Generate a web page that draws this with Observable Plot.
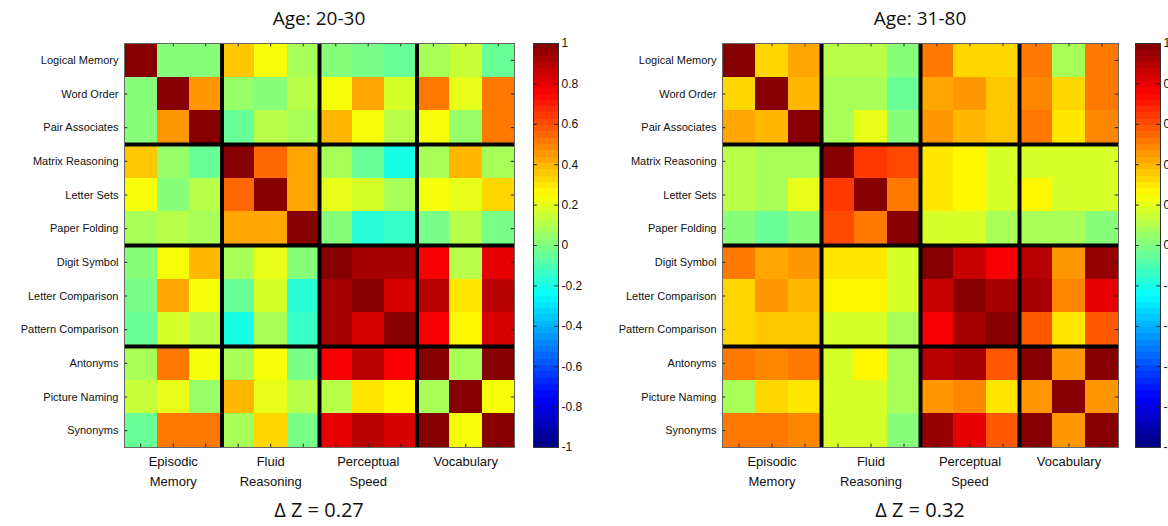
<!DOCTYPE html>
<html>
<head>
<meta charset="utf-8">
<script src="https://cdn.jsdelivr.net/npm/d3@7"></script>
<script src="https://cdn.jsdelivr.net/npm/@observablehq/plot@0.6"></script>
<style>
  html, body { margin: 0; padding: 0; background: #fff; }
  body { width: 1168px; height: 526px; overflow: hidden; position: relative; }
  .panel { position: absolute; top: 0; width: 584px; height: 526px; }
  .panel svg { position: absolute; top: 0; overflow: visible; }
  .title, .dz { position: absolute; text-align: center; font-family: "Open Sans", Lato, sans-serif; color: #111; white-space: nowrap; }
  .title { font-size: 19px; top: 5px; }
  .dz { font-size: 20px; top: 496px; }
</style>
</head>
<body>
<script>
// ---------- data ----------
const rowLabels = ["Logical Memory","Word Order","Pair Associates","Matrix Reasoning","Letter Sets","Paper Folding",
  "Digit Symbol","Letter Comparison","Pattern Comparison","Antonyms","Picture Naming","Synonyms"];
const groupLabels = ["Episodic\nMemory","Fluid\nReasoning","Perceptual\nSpeed","Vocabulary"];
const blockBounds = [3, 6, 9];
const colorTicks = [-1, -0.8, -0.6, -0.4, -0.2, 0, 0.2, 0.4, 0.6, 0.8, 1];
const titles = ["Age: 20-30", "Age: 31-80"];
const deltaZ = ["\u0394 Z = 0.27", "\u0394 Z = 0.32"];

const young = [
  [ 1.00, 0.00, 0.00, 0.37, 0.22, 0.08, 0.02,-0.01,-0.06, 0.09, 0.15,-0.06],
  [ 0.00, 1.00, 0.44, 0.06, 0.00, 0.12, 0.22, 0.41, 0.16, 0.53, 0.21, 0.53],
  [ 0.00, 0.44, 1.00,-0.06, 0.12, 0.09, 0.39, 0.22, 0.12, 0.22, 0.06, 0.53],
  [ 0.37, 0.06,-0.06, 1.00, 0.56, 0.41, 0.07,-0.05,-0.20, 0.09, 0.39, 0.09],
  [ 0.22, 0.00, 0.12, 0.56, 1.00, 0.43, 0.21, 0.16, 0.07, 0.22, 0.19, 0.32],
  [ 0.08, 0.12, 0.09, 0.41, 0.43, 1.00, 0.00,-0.17,-0.13,-0.03, 0.12,-0.02],
  [ 0.02, 0.22, 0.39, 0.07, 0.21, 0.00, 1.00, 0.93, 0.93, 0.75, 0.10, 0.81],
  [-0.01, 0.41, 0.22,-0.05, 0.16,-0.17, 0.93, 1.00, 0.84, 0.90, 0.31, 0.90],
  [-0.06, 0.16, 0.12,-0.20, 0.07,-0.13, 0.93, 0.84, 1.00, 0.78, 0.25, 0.84],
  [ 0.09, 0.53, 0.22, 0.09, 0.22,-0.03, 0.75, 0.90, 0.78, 1.00, 0.09, 0.97],
  [ 0.15, 0.21, 0.06, 0.39, 0.19, 0.12, 0.10, 0.31, 0.25, 0.09, 1.00, 0.22],
  [-0.06, 0.53, 0.53, 0.09, 0.32,-0.02, 0.81, 0.90, 0.84, 0.97, 0.22, 1.00]
];
const old = [
  [ 1.00, 0.33, 0.41, 0.10, 0.12, 0.03, 0.50, 0.34, 0.34, 0.53, 0.08, 0.50],
  [ 0.33, 1.00, 0.40, 0.07, 0.07,-0.06, 0.42, 0.46, 0.36, 0.47, 0.34, 0.53],
  [ 0.41, 0.40, 1.00, 0.09, 0.20, 0.02, 0.44, 0.39, 0.36, 0.50, 0.29, 0.47],
  [ 0.10, 0.07, 0.09, 1.00, 0.63, 0.61, 0.29, 0.25, 0.17, 0.16, 0.16, 0.16],
  [ 0.12, 0.07, 0.20, 0.63, 1.00, 0.50, 0.29, 0.28, 0.17, 0.25, 0.18, 0.18],
  [ 0.03,-0.06, 0.02, 0.61, 0.50, 1.00, 0.16, 0.16, 0.09, 0.09, 0.09, 0.03],
  [ 0.50, 0.42, 0.44, 0.29, 0.29, 0.16, 1.00, 0.87, 0.78, 0.90, 0.44, 0.94],
  [ 0.34, 0.46, 0.39, 0.25, 0.28, 0.16, 0.87, 1.00, 0.93, 0.93, 0.47, 0.81],
  [ 0.34, 0.36, 0.36, 0.17, 0.17, 0.09, 0.78, 0.93, 1.00, 0.59, 0.31, 0.59],
  [ 0.53, 0.47, 0.50, 0.16, 0.25, 0.09, 0.90, 0.93, 0.59, 1.00, 0.46, 0.97],
  [ 0.08, 0.34, 0.29, 0.16, 0.18, 0.09, 0.44, 0.47, 0.31, 0.46, 1.00, 0.44],
  [ 0.50, 0.53, 0.47, 0.16, 0.18, 0.03, 0.94, 0.81, 0.59, 0.97, 0.44, 1.00]
];

// ---------- jet colormap (64 levels, MATLAB style) ----------
const clamp01 = v => Math.max(0, Math.min(1, v));
function jet(t) {
  const i = Math.max(0, Math.min(63, Math.floor(t * 64)));
  const s = (i + 0.5) / 64;
  const r = clamp01(1.5 - Math.abs(4 * s - 3));
  const g = clamp01(1.5 - Math.abs(4 * s - 2));
  const b = clamp01(1.5 - Math.abs(4 * s - 1));
  return `rgb(${Math.round(r*255)},${Math.round(g*255)},${Math.round(b*255)})`;
}
const colorOpts = {type: "linear", domain: [-1, 1], interpolate: jet};

const layouts = [
  {left: 0,   ml: 124, mr: 70, cb: 533},
  {left: 598, ml: 124, mr: 64, cb: 537}
];
const H = 500, MT = 43, MB = 53;
const n = rowLabels.length;
const centers = d3.range(n).map(i => i + 0.5);
const font = "'Liberation Sans', Arial, sans-serif";

[young, old].forEach((M, p) => {
  const L = layouts[p];
  const panel = document.createElement("div");
  panel.className = "panel";
  panel.style.left = L.left + "px";
  document.body.appendChild(panel);

  const cells = [];
  M.forEach((row, r) => row.forEach((v, c) => cells.push({r, c, v})));

  const plot = Plot.plot({
    width: 584, height: H,
    marginLeft: L.ml, marginRight: L.mr, marginTop: MT, marginBottom: MB,
    style: {fontFamily: font, background: "transparent", overflow: "visible"},
    x: {domain: [0, n], axis: null, label: null},
    y: {domain: [0, n], reverse: true, axis: null, label: null},
    color: colorOpts,
    marks: [
      Plot.rect(cells, {x1: "c", x2: d => d.c + 1, y1: "r", y2: d => d.r + 1, fill: "v", shapeRendering: "crispEdges"}),
      Plot.ruleX(centers, {y1: n, y2: n - 0.1, stroke: "#222", strokeWidth: 1}),
      Plot.ruleX(centers, {y1: 0, y2: 0.1, stroke: "#222", strokeWidth: 1}),
      Plot.ruleY(centers, {x1: 0, x2: 0.1, stroke: "#222", strokeWidth: 1}),
      Plot.ruleY(centers, {x1: n, x2: n - 0.1, stroke: "#222", strokeWidth: 1}),
      Plot.ruleX(blockBounds, {stroke: "black", strokeWidth: 4}),
      Plot.ruleY(blockBounds, {stroke: "black", strokeWidth: 4}),
      Plot.frame({stroke: "#666", strokeWidth: 1}),
      Plot.axisY(centers, {anchor: "left", tickSize: 0, tickPadding: 6, fontSize: 11, label: null,
        tickFormat: d => rowLabels[Math.floor(d)], fill: "#111"}),
      Plot.text(groupLabels, {x: (d, i) => i * 3 + 1.5, y: n, dy: 5, lineAnchor: "top",
        fontSize: 13, lineHeight: 1.5, fill: "#111"})
    ]
  });
  plot.style.left = "0px";
  panel.appendChild(plot);

  const bands = d3.range(64).map(i => ({y1: -1 + i / 32, y2: -1 + (i + 1) / 32, v: -1 + (i + 0.5) / 32}));
  const bar = Plot.plot({
    width: 60, height: H,
    marginLeft: 0, marginRight: 35, marginTop: MT, marginBottom: MB,
    style: {fontFamily: font, background: "transparent", overflow: "visible"},
    x: {domain: [0, 1], axis: null, label: null},
    y: {domain: [-1, 1], axis: null, label: null},
    color: colorOpts,
    marks: [
      Plot.rect(bands, {x1: 0, x2: 1, y1: "y1", y2: "y2", fill: "v", shapeRendering: "crispEdges"}),
      Plot.ruleY(colorTicks, {x1: 0, x2: 0.15, stroke: "#222"}),
      Plot.ruleY(colorTicks, {x1: 0.85, x2: 1, stroke: "#222"}),
      Plot.frame({stroke: "#333"}),
      Plot.axisY(colorTicks, {anchor: "right", tickSize: 0, tickPadding: 3, fontSize: 12, label: null,
        tickFormat: d => String(d), fill: "#111"})
    ]
  });
  bar.style.left = L.cb + "px";
  panel.appendChild(bar);

  const cx = L.ml + (584 - L.ml - L.mr) / 2;
  const t = document.createElement("div");
  t.className = "title";
  t.textContent = titles[p];
  t.style.left = (cx - 100) + "px";
  t.style.width = "200px";
  panel.appendChild(t);

  const z = document.createElement("div");
  z.className = "dz";
  z.textContent = deltaZ[p];
  z.style.left = (cx - 100) + "px";
  z.style.width = "200px";
  panel.appendChild(z);
});
</script>
</body>
</html>
